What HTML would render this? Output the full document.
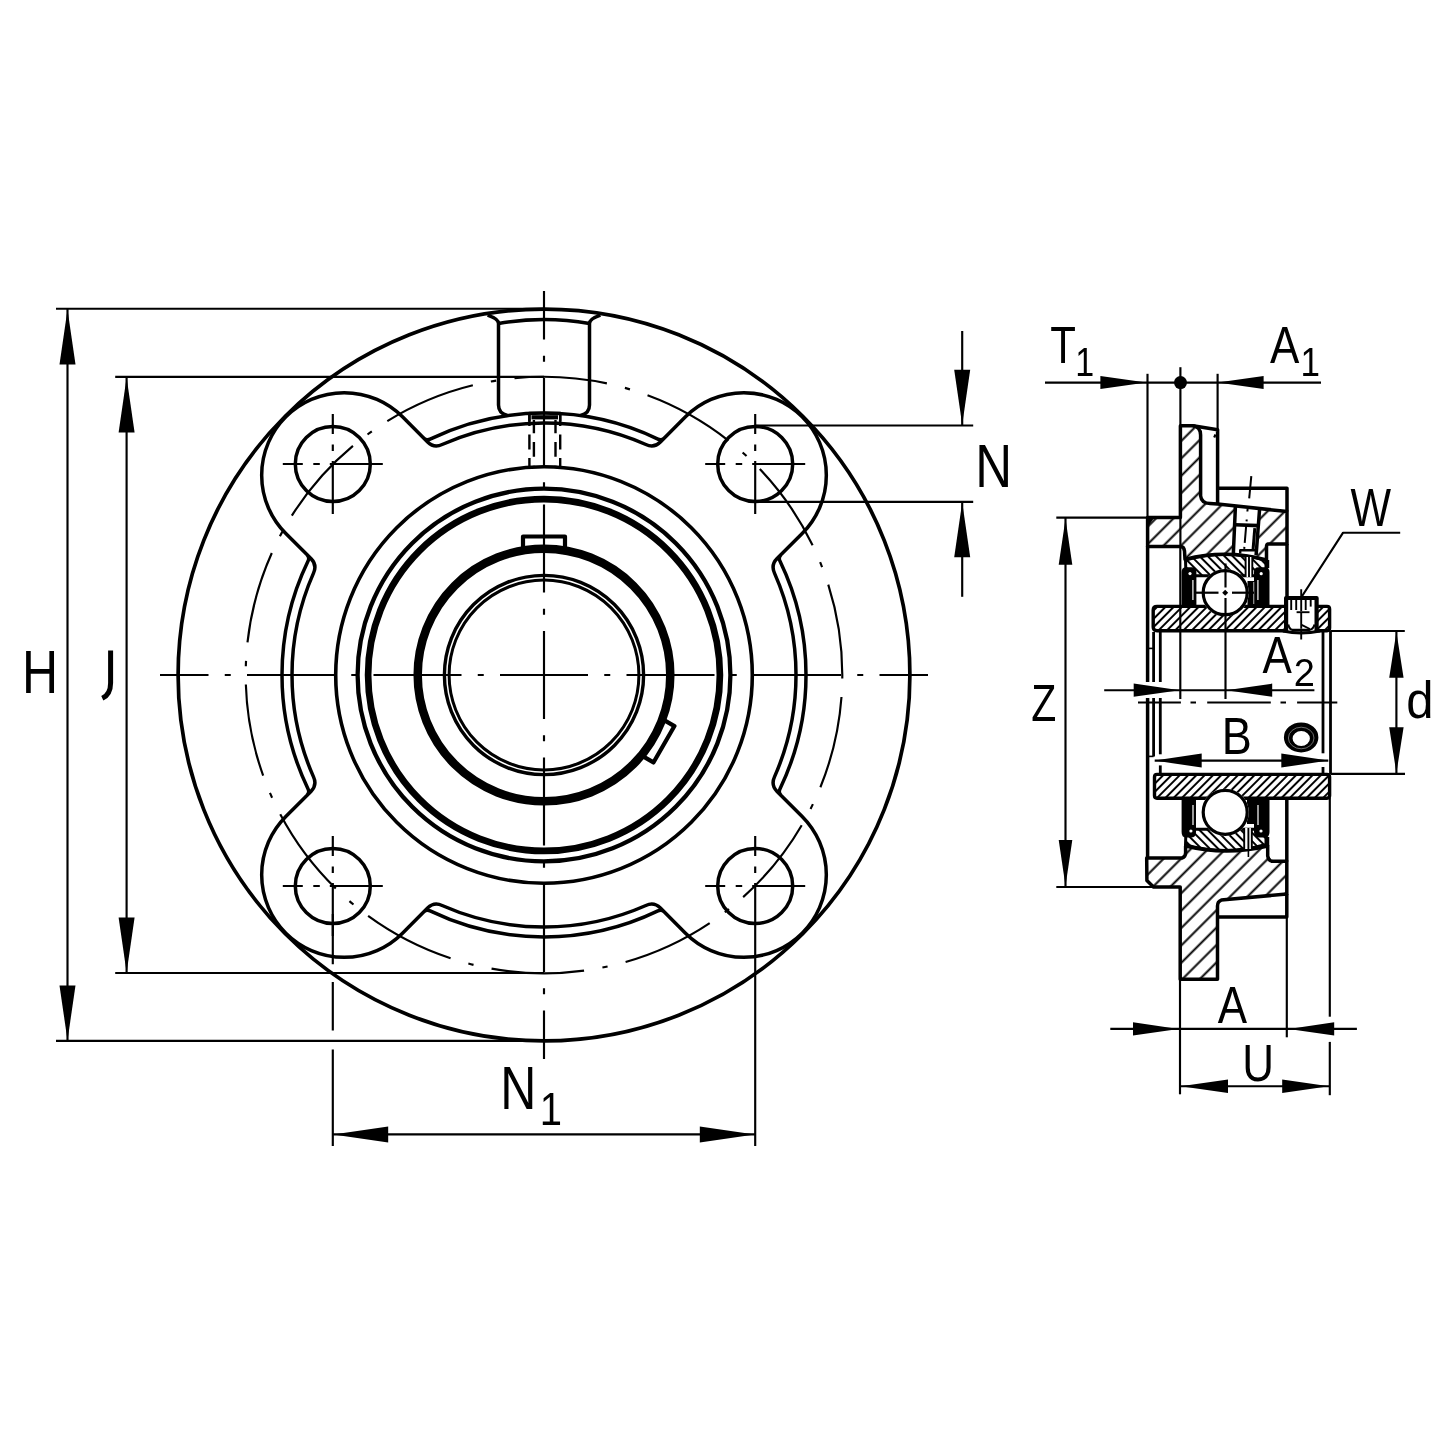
<!DOCTYPE html><html><head><meta charset="utf-8"><style>html,body{margin:0;padding:0;background:#fff;overflow:hidden}svg{display:block;font-family:"Liberation Sans",sans-serif;will-change:transform}</style></head><body><svg width="1445" height="1445" viewBox="0 0 1445 1445"><defs>
<pattern id="hH" patternUnits="userSpaceOnUse" width="12.3" height="40" patternTransform="translate(-4.2,0) rotate(45)"><rect x="5.2" y="0" width="1.95" height="40" fill="#000"/></pattern>
<pattern id="hI" patternUnits="userSpaceOnUse" width="5.87" height="40" patternTransform="rotate(45)"><rect x="1.93" y="0" width="2" height="40" fill="#000"/></pattern>
<pattern id="hO" patternUnits="userSpaceOnUse" width="5.87" height="40" patternTransform="rotate(-45)"><rect x="1.93" y="0" width="2" height="40" fill="#000"/></pattern>
</defs><rect width="1445" height="1445" fill="#fff"/><g fill="none" stroke="#000" stroke-linecap="butt" stroke-linejoin="round"><circle cx="544" cy="675" r="365.9" stroke-width="3.7" />
<g id="quad"><path d="M544,423 A252,252 0 0 0 442.13,444.51 Q433.97,448.29 427.6,441.93 L402.51,416.84 A82.5,82.5 0 0 0 285.84,416.84 A82.5,82.5 0 0 0 285.84,533.51 L310.93,558.6 Q317.29,564.97 313.51,573.13 A252,252 0 0 0 292,675 M544,413 A262,262 0 0 0 430.09,439.06 Q426.5,440.83 423.67,438 M307,554.67 Q309.83,557.5 308.06,561.09 A262,262 0 0 0 282,675" stroke-width="3.5"/></g>
<use href="#quad" transform="matrix(-1,0,0,1,1088,0)"/>
<use href="#quad" transform="matrix(1,0,0,-1,0,1350)"/>
<use href="#quad" transform="matrix(-1,0,0,-1,1088,1350)"/>
<path d="M487.6,315.2 Q498.5,319 498.5,323.5 L498.5,405 Q498.5,413.5 507.5,415.5" stroke-width="3.5" />
<path d="M600.4,315.2 Q589.5,319 589.5,323.5 L589.5,405 Q589.5,413.5 580.5,415.5" stroke-width="3.5" />
<path d="M498.5,323.5 Q544,315.5 589.5,323.5" stroke-width="3.5" />
<circle cx="332.8" cy="464" r="37.5" stroke-width="3.5" />
<line x1="282.8" y1="464" x2="382.8" y2="464" stroke-width="2.15" stroke-dasharray="20 10.5 6.5 10 200"/>
<line x1="332.8" y1="414" x2="332.8" y2="514" stroke-width="2.15" stroke-dasharray="20 10.5 6.5 10 200"/>
<circle cx="755.2" cy="464" r="37.5" stroke-width="3.5" />
<line x1="705.2" y1="464" x2="805.2" y2="464" stroke-width="2.15" stroke-dasharray="20 10.5 6.5 10 200"/>
<line x1="755.2" y1="414" x2="755.2" y2="514" stroke-width="2.15" stroke-dasharray="20 10.5 6.5 10 200"/>
<circle cx="332.8" cy="886" r="37.5" stroke-width="3.5" />
<line x1="282.8" y1="886" x2="382.8" y2="886" stroke-width="2.15" stroke-dasharray="20 10.5 6.5 10 200"/>
<line x1="332.8" y1="836" x2="332.8" y2="936" stroke-width="2.15" stroke-dasharray="20 10.5 6.5 10 200"/>
<circle cx="755.2" cy="886" r="37.5" stroke-width="3.5" />
<line x1="705.2" y1="886" x2="805.2" y2="886" stroke-width="2.15" stroke-dasharray="20 10.5 6.5 10 200"/>
<line x1="755.2" y1="836" x2="755.2" y2="936" stroke-width="2.15" stroke-dasharray="20 10.5 6.5 10 200"/>
<circle cx="544" cy="675" r="298.3" stroke-width="2.15" stroke-dasharray="93 18.5 5.3 18.55" stroke-dashoffset="113.3"/>
<circle cx="544" cy="675" r="208.3" stroke-width="3.6" />
<circle cx="544" cy="675" r="186.4" stroke-width="4.3" />
<circle cx="544" cy="675" r="175.9" stroke-width="6.7" />
<circle cx="544" cy="675" r="126.3" stroke-width="8.5" />
<circle cx="544" cy="675" r="99.6" stroke-width="3.4" />
<circle cx="544" cy="675" r="94.9" stroke-width="3" />
<path d="M523,549.5 L523,536.5 L565,536.5 L565,549.5" stroke-width="4.2" />
<g transform="rotate(120 544.0 675.0)"><path d="M523,549.5 L523,536.5 L565,536.5 L565,549.5" stroke-width="4.2"/></g>
<path d="M529.4,421.6 L529.4,413.1 L560.2,413.1 L560.2,421.6" stroke-width="2.5" />
<path d="M531.5,417.3 L558,417.3" stroke-width="4.2" />
<line x1="529.4" y1="413" x2="529.4" y2="466" stroke-width="2.4" stroke-dasharray="13 8.6 14.8 8.5 30"/>
<line x1="560.2" y1="413" x2="560.2" y2="466" stroke-width="2.4" stroke-dasharray="13 8.6 14.8 8.5 30"/>
<line x1="533.9" y1="420" x2="533.9" y2="466" stroke-width="2.4" stroke-dasharray="13.3 8.6 14.8 9 30"/>
<line x1="555.5" y1="420" x2="555.5" y2="466" stroke-width="2.4" stroke-dasharray="13.3 8.6 14.8 9 30"/>
<line x1="160" y1="675" x2="928" y2="675" stroke-width="2.15" stroke-dasharray="88 16.25 6 16.25" stroke-dashoffset="39.5"/>
<line x1="544" y1="291" x2="544" y2="1059" stroke-width="2.15" stroke-dasharray="88 16.25 6 16.25" stroke-dashoffset="39.5"/>
<line x1="56" y1="308.7" x2="544" y2="308.7" stroke-width="2.15" />
<line x1="56" y1="1040.8" x2="544" y2="1040.8" stroke-width="2.15" />
<line x1="67.5" y1="309" x2="67.5" y2="1040" stroke-width="2.15" />
<polygon points="67.5,309.4 75.5,364.4 59.5,364.4" fill="#000" stroke="none" />
<polygon points="67.5,1040.4 59.5,985.4 75.5,985.4" fill="#000" stroke="none" />
<line x1="115.2" y1="376.9" x2="544" y2="376.9" stroke-width="2.15" />
<line x1="115.2" y1="973" x2="544" y2="973" stroke-width="2.15" />
<line x1="126.6" y1="377" x2="126.6" y2="973" stroke-width="2.15" />
<polygon points="126.6,377.5 134.6,432.5 118.6,432.5" fill="#000" stroke="none" />
<polygon points="126.6,972.5 118.6,917.5 134.6,917.5" fill="#000" stroke="none" />
<text fill="#000" stroke="none" font-family="Liberation Sans, sans-serif" transform="matrix(0.5,0,0,0.61,22.03,692.5)" font-size="100">H</text>
<path d="M110.6,650.5 L110.6,683 Q110.6,694.5 102.3,698.3" stroke-width="5" stroke-linecap="butt"/>
<line x1="755.2" y1="425.5" x2="973.2" y2="425.5" stroke-width="2.15" />
<line x1="755.2" y1="501.8" x2="973.2" y2="501.8" stroke-width="2.15" />
<line x1="962.2" y1="331" x2="962.2" y2="425.5" stroke-width="2.15" />
<line x1="962.2" y1="501.8" x2="962.2" y2="596.8" stroke-width="2.15" />
<polygon points="962.2,424.8 954.2,369.8 970.2,369.8" fill="#000" stroke="none" />
<polygon points="962.2,502.3 970.2,557.3 954.2,557.3" fill="#000" stroke="none" />
<text fill="#000" stroke="none" font-family="Liberation Sans, sans-serif" transform="matrix(0.51,0,0,0.61,975.2,486.9)" font-size="100">N</text>
<line x1="332.8" y1="914" x2="332.8" y2="1146" stroke-width="2.15" stroke-dasharray="50.2 17.7 48.7 18.9 300"/>
<line x1="755.2" y1="936" x2="755.2" y2="1146" stroke-width="2.15" />
<line x1="332.8" y1="1134.4" x2="755.2" y2="1134.4" stroke-width="2.15" />
<polygon points="333.2,1134.4 388.2,1126.4 388.2,1142.4" fill="#000" stroke="none" />
<polygon points="754.8,1134.4 699.8,1142.4 699.8,1126.4" fill="#000" stroke="none" />
<text fill="#000" stroke="none" font-family="Liberation Sans, sans-serif" transform="matrix(0.5,0,0,0.61,500.3,1109.2)" font-size="100">N</text>
<text fill="#000" stroke="none" font-family="Liberation Sans, sans-serif" transform="matrix(0.4,0,0,0.46,539.72,1124.7)" font-size="100">1</text>
<path d="M1180.4,425.8 L1193,425.8 Q1200.6,427 1200.6,435 L1200.6,495.9 Q1201.5,503.5 1210,503.6 L1217.6,504 L1287,511.5 L1287,544.1 L1267.6,544.1 Q1266.5,544.5 1266.5,547 L1266.5,560 Q1226,549 1185,559.4 L1184.5,551 Q1184,546.5 1180.6,546.5 L1147.6,546.5 L1147.6,517.6 L1180.4,517.6 Z" stroke-width="0" fill="url(#hH)" stroke="none"/>
<path d="M1235.4,506.7 L1259.6,508.8 L1256.1,555.1 L1233.3,554.4 Z" stroke-width="0" fill="#fff" stroke="none"/>
<path d="M1180.4,425.8 L1193,425.8 Q1200.6,427 1200.6,435 L1200.6,495.9 Q1201.5,503.5 1210,503.6 L1217.6,504 L1287,511.5 L1287,544.1 L1267.6,544.1 Q1266.5,544.5 1266.5,547 L1266.5,560 Q1226,549 1185,559.4 L1184.5,551 Q1184,546.5 1180.6,546.5 L1147.6,546.5 L1147.6,517.6 L1180.4,517.6 Z" stroke-width="3.5" fill="none"/>
<path d="M1235.4,506.7 L1233.3,554.4 M1259.6,508.8 L1256.1,555.1" stroke-width="3.5" />
<path d="M1235,524.7 L1258.5,525.6" stroke-width="3.6" />
<path d="M1254.8,528.1 L1253,550.3" stroke-width="3" />
<path d="M1240.2,553.5 L1240.2,550.3 L1255,550.3" stroke-width="2.4" />
<line x1="1247.6" y1="509" x2="1244.2" y2="549" stroke-width="2" stroke-dasharray="2.5 8 2 4.5 17 4 2 20"/>
<line x1="1251.3" y1="476.2" x2="1249.2" y2="498.4" stroke-width="2" />
<path d="M1193,425.8 L1217.6,429.8 L1217.6,504" stroke-width="3.5" />
<path d="M1214.2,437.5 L1215.5,434.5" stroke-width="2.2" />
<path d="M1217.6,488.2 L1287,488.2 L1287,511.5" stroke-width="3.5" />
<path d="M1185.5,560 Q1226,549 1266,560.5 L1266,575.7 L1186,575.7 Z" stroke-width="0" fill="url(#hO)" stroke="none"/>
<path d="M1185.5,560 Q1226,549 1266,560.5 L1266,575.7 L1186,575.7 Z" stroke-width="3" fill="none"/>
<path d="M1181.6,606 L1181.6,572 Q1181.6,567.3 1186,567.3 L1192,567.3 Q1196.4,567.3 1196.4,572 L1196.4,606 Z" stroke-width="0" fill="#000" stroke="none"/>
<path d="M1254,606 L1254,572 Q1254,567.3 1258.5,567.3 L1265,567.3 Q1269.5,567.3 1269.5,572 L1269.5,606 Z" stroke-width="0" fill="#000" stroke="none"/>
<path d="M1247.5,606 L1247.5,581 L1255,581 L1255,606 Z" stroke-width="0" fill="#000" stroke="none"/>
<line x1="1192.9" y1="580" x2="1192.9" y2="600" stroke-width="1.4" stroke="#ddd"/>
<line x1="1257.9" y1="580" x2="1257.9" y2="600" stroke-width="1.4" stroke="#ddd"/>
<line x1="1253.7" y1="582" x2="1253.7" y2="604" stroke-width="1.2" stroke="#999"/>
<circle cx="1190" cy="573.6" r="1.6" stroke-width="0" fill="#fff" stroke="none"/>
<circle cx="1261.2" cy="573.7" r="1.6" stroke-width="0" fill="#fff" stroke="none"/>
<path d="M1245.6,557 L1252.3,557 L1252.3,577 L1245.6,577 Z" stroke-width="0" fill="#fff" stroke="none"/>
<line x1="1245.6" y1="556.5" x2="1245.6" y2="577" stroke-width="1.9" />
<line x1="1249" y1="556.5" x2="1249" y2="577" stroke-width="1.9" />
<line x1="1252.3" y1="556.5" x2="1252.3" y2="577" stroke-width="1.9" />
<path d="M1153.2,606.4 L1329.6,606.4 L1329.6,630.7 L1153.2,630.7 Z" stroke-width="0" fill="url(#hI)" stroke="none"/>
<path d="M1157,606.4 L1327,606.4 Q1329.6,606.4 1329.6,609 L1329.6,628 Q1329.6,630.7 1327,630.7 L1157,630.7 Q1153.2,630.7 1153.2,627 L1153.2,610 Q1153.2,606.4 1157,606.4 Z" stroke-width="3.4" fill="none"/>
<circle cx="1225.2" cy="592.7" r="23.6" stroke-width="0" fill="#fff" stroke="none"/>
<circle cx="1225.2" cy="592.7" r="22" stroke-width="3.2" fill="none"/>
<line x1="1196" y1="592.7" x2="1218.5" y2="592.7" stroke-width="2.2" />
<line x1="1232" y1="592.7" x2="1254" y2="592.7" stroke-width="2.2" />
<polygon points="1225.2,589.7 1228.2,592.7 1225.2,595.7 1222.2,592.7" fill="#000" stroke="none" />
<path d="M1285,597.3 L1318,597.3 L1318,631.5 L1285,631.5 Z" stroke-width="0" fill="#fff" stroke="none"/>
<path d="M1286.1,631 L1286.1,598 L1316.6,598 L1316.6,631" stroke-width="4.2" />
<line x1="1291.2" y1="599.5" x2="1291.2" y2="610" stroke-width="1.9" />
<line x1="1296.2" y1="599.5" x2="1296.2" y2="610" stroke-width="1.9" />
<line x1="1305.7" y1="599.5" x2="1305.7" y2="610" stroke-width="1.9" />
<line x1="1310.7" y1="599.5" x2="1310.7" y2="606.6" stroke-width="1.9" />
<line x1="1296.6" y1="612.2" x2="1309.5" y2="612.2" stroke-width="1.9" />
<path d="M1288.2,624.5 Q1289.5,629.6 1292.5,629.8 L1309.5,629.8 Q1313,629.6 1314.6,624.5" stroke-width="2.2" />
<line x1="1301.6" y1="624.9" x2="1309.9" y2="629" stroke-width="1.9" />
<path d="M1283,631 Q1301,635 1320,631" stroke-width="3.2" />
<line x1="1301.2" y1="589.2" x2="1301.2" y2="639.4" stroke-width="1.9" stroke-dasharray="22 1.5 16 1.5 12"/>
<path d="M1301.5,597 L1343.1,532.7 L1400.2,532.7" stroke-width="2.15" />
<path d="M1146.7,858 L1182,858 Q1185.6,857 1185.6,853 L1185.6,846 Q1226,856 1267.7,846 L1267.7,856 Q1268.5,861.3 1273,861.3 L1286.8,861.3 L1286.8,894 L1221.3,900.1 Q1217.5,901.5 1217.5,906 L1217.5,979.3 L1180.2,979.3 L1180.2,887 L1153.5,887 L1146.9,880.5 Z" stroke-width="0" fill="url(#hH)" stroke="none"/>
<path d="M1146.7,858 L1182,858 Q1185.6,857 1185.6,853 L1185.6,846 Q1226,856 1267.7,846 L1267.7,856 Q1268.5,861.3 1273,861.3 L1286.8,861.3 L1286.8,894 L1221.3,900.1 Q1217.5,901.5 1217.5,906 L1217.5,979.3 L1180.2,979.3 L1180.2,887 L1153.5,887 L1146.9,880.5 Z" stroke-width="3.5" fill="none"/>
<path d="M1217.5,916.9 L1286.8,916.9 L1286.8,894" stroke-width="3.5" />
<path d="M1185.5,845 Q1226,856 1266,844.5 L1266,829.3 L1186,829.3 Z" stroke-width="0" fill="url(#hO)" stroke="none"/>
<path d="M1185.5,845 Q1226,856 1266,844.5 L1266,829.3 L1186,829.3 Z" stroke-width="3" fill="none"/>
<path d="M1181.6,799 L1196,799 L1196,832 Q1196,837.5 1191,837.5 L1186,837.5 Q1181.6,837.5 1181.6,832 Z" stroke-width="0" fill="#000" stroke="none"/>
<path d="M1254,799 L1269.5,799 L1269.5,832 Q1269.5,837.5 1265,837.5 L1259,837.5 Q1254,837.5 1254,832 Z" stroke-width="0" fill="#000" stroke="none"/>
<path d="M1247,799 L1254.5,799 L1254.5,824 L1247,824 Z" stroke-width="0" fill="#000" stroke="none"/>
<line x1="1193" y1="805" x2="1193" y2="825" stroke-width="1.4" stroke="#ddd"/>
<line x1="1258" y1="805" x2="1258" y2="825" stroke-width="1.4" stroke="#ddd"/>
<circle cx="1190.9" cy="831" r="1.6" stroke-width="0" fill="#fff" stroke="none"/>
<circle cx="1261" cy="831" r="1.6" stroke-width="0" fill="#fff" stroke="none"/>
<path d="M1154.5,774.4 L1329.6,774.4 L1329.6,798.2 L1154.5,798.2 Z" stroke-width="0" fill="url(#hI)" stroke="none"/>
<path d="M1157,774.4 L1327,774.4 Q1329.6,774.4 1329.6,777 L1329.6,795.6 Q1329.6,798.2 1327,798.2 L1157,798.2 Q1154.5,798.2 1154.5,795.6 L1154.5,777 Q1154.5,774.4 1157,774.4 Z" stroke-width="3.4" fill="none"/>
<circle cx="1225.2" cy="812.3" r="23.6" stroke-width="0" fill="#fff" stroke="none"/>
<circle cx="1225.2" cy="812.3" r="22" stroke-width="3.2" fill="none"/>
<path d="M1244.2,828 L1251.8,828 L1251.8,849 L1244.2,849 Z" stroke-width="0" fill="#fff" stroke="none"/>
<line x1="1244.2" y1="828" x2="1244.2" y2="849.5" stroke-width="1.9" />
<line x1="1248.4" y1="828" x2="1248.4" y2="849.5" stroke-width="1.9" />
<line x1="1251.8" y1="828" x2="1251.8" y2="849.5" stroke-width="1.9" />
<line x1="1248.4" y1="849" x2="1248.4" y2="857" stroke-width="1.6" />
<line x1="1147.6" y1="546" x2="1147.6" y2="682" stroke-width="3.5" />
<line x1="1147.6" y1="698" x2="1147.6" y2="858.5" stroke-width="3.5" />
<line x1="1153.6" y1="632" x2="1153.6" y2="682" stroke-width="2.8" />
<line x1="1153.6" y1="698" x2="1153.6" y2="756.5" stroke-width="2.8" />
<line x1="1160.3" y1="632" x2="1160.3" y2="682" stroke-width="2.8" />
<line x1="1160.3" y1="698" x2="1160.3" y2="754.3" stroke-width="2.8" />
<line x1="1160.3" y1="765.4" x2="1160.3" y2="773" stroke-width="2.8" />
<line x1="1147.6" y1="648.4" x2="1153.6" y2="648.4" stroke-width="1.6" />
<line x1="1147.6" y1="756.4" x2="1153.6" y2="756.4" stroke-width="1.6" />
<line x1="1323" y1="631" x2="1323" y2="753.3" stroke-width="2.8" />
<line x1="1323" y1="767" x2="1323" y2="774" stroke-width="2.8" />
<line x1="1330.5" y1="631" x2="1330.5" y2="774" stroke-width="2.8" />
<line x1="1287" y1="544" x2="1287" y2="597.5" stroke-width="3.5" />
<line x1="1286.8" y1="799" x2="1286.8" y2="861.5" stroke-width="3.5" />
<line x1="1267.5" y1="560" x2="1267.5" y2="568" stroke-width="3.5" />
<line x1="1267.5" y1="837" x2="1267.5" y2="846" stroke-width="3.5" />
<path d="M1283.9,737.4 A17.25,15 0 1 0 1318.4,737.4 A17.25,15 0 1 0 1283.9,737.4 Z M1292.6,738.5 A8.65,7.55 0 1 1 1309.9,738.5 A8.65,7.55 0 1 1 1292.6,738.5 Z" fill="#000" fill-rule="evenodd" stroke="none"/>
<ellipse cx="1301.2" cy="738" rx="12.8" ry="10.8" stroke="#888" stroke-width="0.8"/>
<line x1="1045" y1="382.6" x2="1321" y2="382.6" stroke-width="2.15" />
<circle cx="1180.5" cy="382.6" r="6.5" stroke-width="0" fill="#000" stroke="none"/>
<polygon points="1146.4,382.6 1100.4,389.1 1100.4,376.1" fill="#000" stroke="none" />
<polygon points="1217.6,382.6 1263.6,376.1 1263.6,389.1" fill="#000" stroke="none" />
<line x1="1147.5" y1="373.8" x2="1147.5" y2="518" stroke-width="2.15" />
<line x1="1217.6" y1="373.8" x2="1217.6" y2="430" stroke-width="2.15" />
<line x1="1180.4" y1="367.2" x2="1180.4" y2="426" stroke-width="2.15" />
<line x1="1180.4" y1="517" x2="1180.4" y2="547" stroke-width="2.15" />
<polygon points="1148.5,516.5 1155,516.5 1148.5,526" fill="#000" stroke="none" />
<text fill="#000" stroke="none" font-family="Liberation Sans, sans-serif" transform="matrix(0.42,0,0,0.52,1050.15,363.1)" font-size="100">T</text>
<text fill="#000" stroke="none" font-family="Liberation Sans, sans-serif" transform="matrix(0.34,0,0,0.4,1075.27,375.6)" font-size="100">1</text>
<text fill="#000" stroke="none" font-family="Liberation Sans, sans-serif" transform="matrix(0.44,0,0,0.52,1270,362.8)" font-size="100">A</text>
<text fill="#000" stroke="none" font-family="Liberation Sans, sans-serif" transform="matrix(0.35,0,0,0.4,1300.41,375.9)" font-size="100">1</text>
<text fill="#000" stroke="none" font-family="Liberation Sans, sans-serif" transform="matrix(0.43,0,0,0.53,1350.47,525.5)" font-size="100">W</text>
<line x1="1056.3" y1="517.6" x2="1147.6" y2="517.6" stroke-width="2.15" />
<line x1="1056.3" y1="887" x2="1153" y2="887" stroke-width="2.15" />
<line x1="1065.5" y1="518" x2="1065.5" y2="887" stroke-width="2.15" />
<polygon points="1065.5,518.8 1072.3,564.8 1058.7,564.8" fill="#000" stroke="none" />
<polygon points="1065.5,886 1058.7,840 1072.3,840" fill="#000" stroke="none" />
<text fill="#000" stroke="none" font-family="Liberation Sans, sans-serif" transform="matrix(0.41,0,0,0.51,1031.17,721.2)" font-size="100">Z</text>
<line x1="1104.2" y1="690.2" x2="1314.4" y2="690.2" stroke-width="2.15" />
<polygon points="1179.7,690.2 1133.7,696.8 1133.7,683.6" fill="#000" stroke="none" />
<polygon points="1226.2,690.2 1272.2,683.6 1272.2,696.8" fill="#000" stroke="none" />
<line x1="1180.3" y1="546" x2="1180.3" y2="699" stroke-width="2.15" />
<line x1="1225.5" y1="563.5" x2="1225.5" y2="587.5" stroke-width="2.15" />
<line x1="1225.5" y1="598" x2="1225.5" y2="699" stroke-width="2.15" />
<text fill="#000" stroke="none" font-family="Liberation Sans, sans-serif" transform="matrix(0.44,0,0,0.51,1262.4,672.5)" font-size="100">A</text>
<text fill="#000" stroke="none" font-family="Liberation Sans, sans-serif" transform="matrix(0.38,0,0,0.39,1293.82,686)" font-size="100">2</text>
<line x1="1138" y1="702.5" x2="1337.3" y2="702.5" stroke-width="2.15" stroke-dasharray="42.9 9.6 5.5 11.2 63.6 9.7 5.5 11.1 50"/>
<line x1="1154.7" y1="760.6" x2="1328.3" y2="760.6" stroke-width="2.15" />
<polygon points="1154.7,760.6 1201.7,753.6 1201.7,767.6" fill="#000" stroke="none" />
<polygon points="1328.3,760.6 1281.3,767.6 1281.3,753.6" fill="#000" stroke="none" />
<text fill="#000" stroke="none" font-family="Liberation Sans, sans-serif" transform="matrix(0.45,0,0,0.52,1221.82,754)" font-size="100">B</text>
<line x1="1330.5" y1="631" x2="1404.8" y2="631" stroke-width="2.15" />
<line x1="1330.5" y1="773.9" x2="1405" y2="773.9" stroke-width="2.15" />
<line x1="1396.4" y1="631" x2="1396.4" y2="774" stroke-width="2.15" />
<polygon points="1396.4,632 1403.6,677.7 1389.2,677.7" fill="#000" stroke="none" />
<polygon points="1396.4,773 1389.2,727.3 1403.6,727.3" fill="#000" stroke="none" />
<text fill="#000" stroke="none" font-family="Liberation Sans, sans-serif" transform="matrix(0.49,0,0,0.52,1406.25,717.98)" font-size="100">d</text>
<line x1="1110.3" y1="1028.9" x2="1356.9" y2="1028.9" stroke-width="2.15" />
<polygon points="1178.5,1028.9 1133,1035.5 1133,1022.3" fill="#000" stroke="none" />
<polygon points="1288.7,1028.9 1334.2,1022.3 1334.2,1035.5" fill="#000" stroke="none" />
<line x1="1180" y1="979" x2="1180" y2="1094.3" stroke-width="2.15" />
<line x1="1286.8" y1="917" x2="1286.8" y2="1037.3" stroke-width="2.15" />
<line x1="1329.8" y1="798" x2="1329.8" y2="1016.7" stroke-width="2.15" />
<line x1="1329.8" y1="1041.9" x2="1329.8" y2="1095.2" stroke-width="2.15" />
<text fill="#000" stroke="none" font-family="Liberation Sans, sans-serif" transform="matrix(0.44,0,0,0.52,1217.7,1023.3)" font-size="100">A</text>
<line x1="1180" y1="1086.2" x2="1329.8" y2="1086.2" stroke-width="2.15" />
<polygon points="1180.7,1086.2 1228,1079.4 1228,1093" fill="#000" stroke="none" />
<polygon points="1328.9,1086.2 1282.2,1093 1282.2,1079.4" fill="#000" stroke="none" />
<text fill="#000" stroke="none" font-family="Liberation Sans, sans-serif" transform="matrix(0.44,0,0,0.52,1242.17,1080.68)" font-size="100">U</text></g></svg></body></html>
